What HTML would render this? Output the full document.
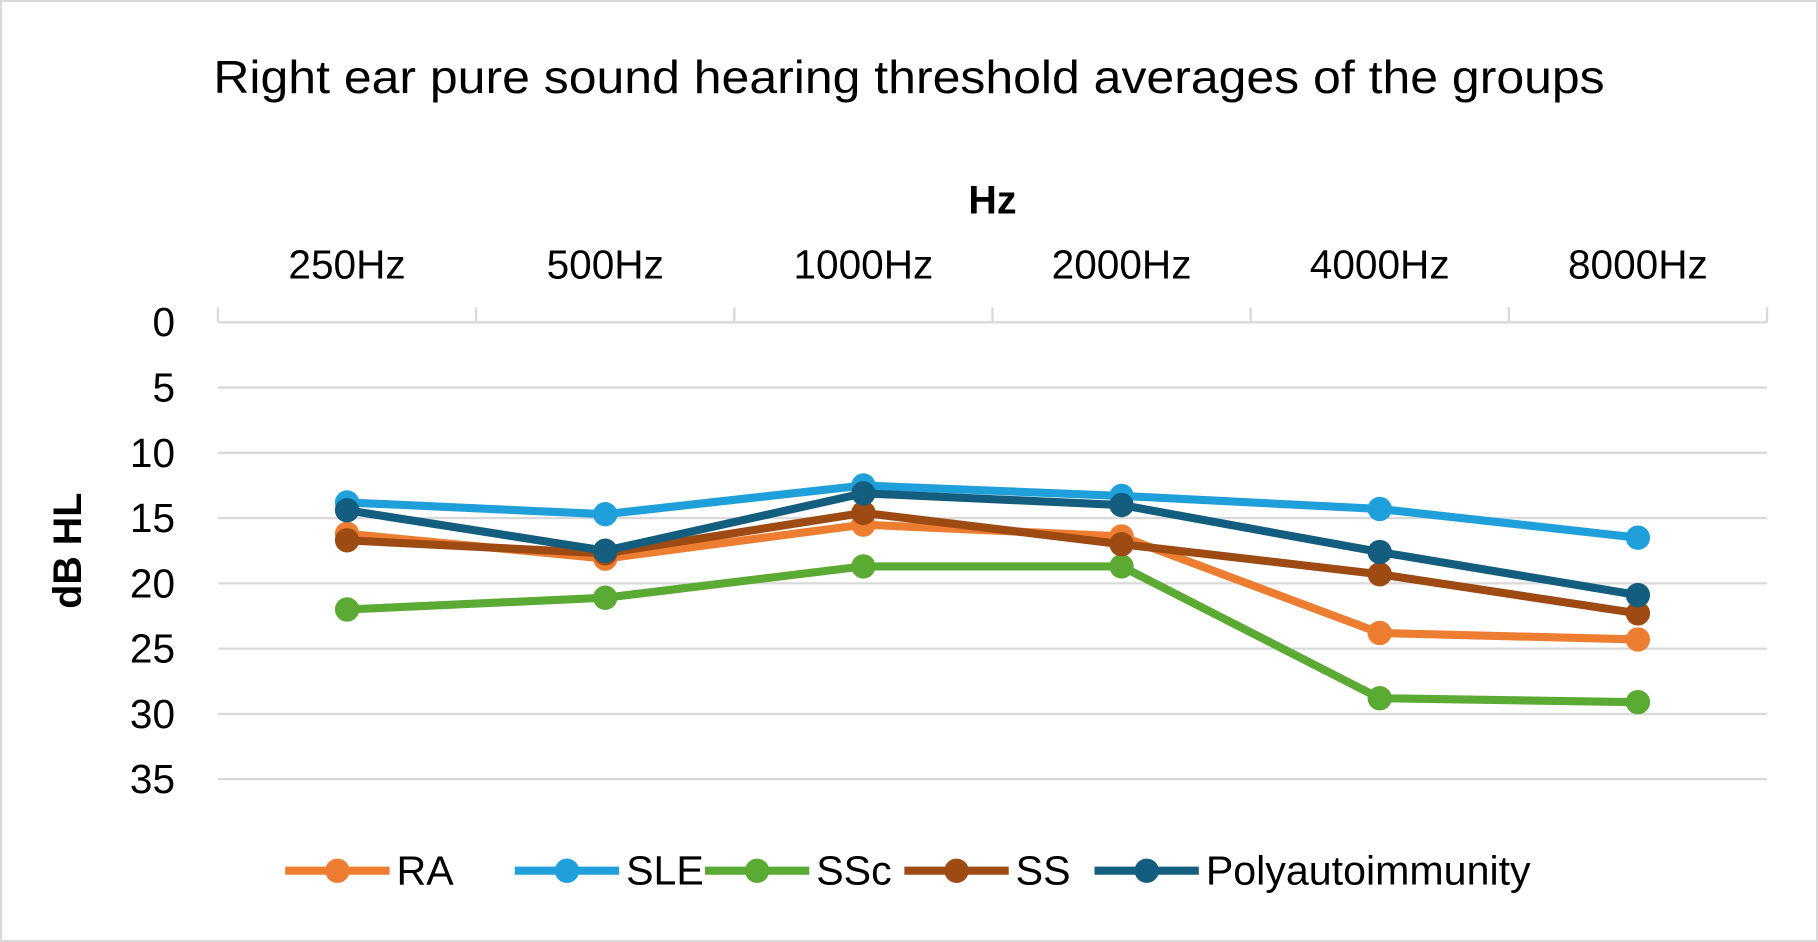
<!DOCTYPE html>
<html><head><meta charset="utf-8"><style>
body{margin:0;background:#fff;}
svg{display:block;font-family:"Liberation Sans",sans-serif;}
</style></head><body>
<svg id="c" width="1818" height="942">
<rect x="1" y="1" width="1816" height="940" fill="#fff" stroke="#d9d9d9" stroke-width="2"/>
<g transform="scale(1.15944)">
<text x="784" y="80" font-size="40" text-anchor="middle" textLength="1200" lengthAdjust="spacingAndGlyphs" fill="#000">Right ear pure sound hearing threshold averages of the groups</text>
<text x="856" y="184" font-size="34" font-weight="bold" text-anchor="middle">Hz</text>
<text transform="translate(70,475) rotate(-90)" font-size="34" font-weight="bold" text-anchor="middle">dB HL</text>
<g id="grid"></g><g id="series"></g><g id="legend"></g>
</g>
</svg>
<script>
const categories=["250Hz","500Hz","1000Hz","2000Hz","4000Hz","8000Hz"];
const yTicks=[0,5,10,15,20,25,30,35];
const seriesNames=["RA","SLE","SSc","SS","Polyautoimmunity"];
const seriesColors=["#ed7d31","#1fa0db","#5aaa34","#9e4a13","#135e7e"];
const RA=[16.2,18.1,15.5,16.4,23.8,24.3];
const SLE=[13.8,14.7,12.5,13.3,14.3,16.5];
const SSc=[22.0,21.1,18.7,18.7,28.8,29.1];
const SS=[16.7,17.7,14.6,17.0,19.3,22.3];
const Poly=[14.4,17.5,13.1,14.0,17.6,20.9];
const allSeries=[RA,SLE,SSc,SS,Poly];
const NS="http://www.w3.org/2000/svg";
const L=188,R=1524,T=278,B=672,yMax=35;
const bw=(R-L)/categories.length;
const xS=i=>L+bw*(i+0.5);
const yS=v=>T+(B-T)*v/yMax;
function mk(tag,attrs,parent){const e=document.createElementNS(NS,tag);for(const k in attrs)e.setAttribute(k,attrs[k]);parent.appendChild(e);return e;}
const grid=document.getElementById('grid');
yTicks.forEach(v=>{
  if(v>0){const g=mk('line',{x1:L,x2:R,y1:yS(v),y2:yS(v),stroke:'#d9d9d9','stroke-width':2},grid);
  
  }
  const t=mk('text',{x:151,y:yS(v)+12,'font-size':35,'text-anchor':'end'},grid);t.textContent=v;
  
  
});
const ax=mk('line',{x1:L,x2:R,y1:T,y2:T,stroke:'#d9d9d9','stroke-width':2},grid);


for(let i=0;i<=categories.length;i++){const tk=mk('line',{x1:L+bw*i,x2:L+bw*i,y1:T-13,y2:T,stroke:'#d9d9d9','stroke-width':2},grid);

}
categories.forEach((c,i)=>{const t=mk('text',{x:xS(i),y:240,'font-size':35,'text-anchor':'middle'},grid);t.textContent=c;

});
const sg=document.getElementById('series');
allSeries.forEach((s,k)=>{
  const p=mk('polyline',{points:s.map((v,i)=>xS(i)+','+yS(v)).join(' '),fill:'none',stroke:seriesColors[k],'stroke-width':7,'stroke-linejoin':'round'},sg);
  
  
  s.forEach((v,i)=>{const c=mk('circle',{cx:xS(i),cy:yS(v),r:10.5,fill:seriesColors[k]},sg);
  
  });
});
const lg=document.getElementById('legend');
const lx=[246,444,608,780,944];
seriesNames.forEach((n,k)=>{
  const g=mk('g',{},lg);
  
  
  mk('line',{x1:lx[k],x2:lx[k]+90,y1:751,y2:751,stroke:seriesColors[k],'stroke-width':7},g);
  mk('circle',{cx:lx[k]+45,cy:751,r:10.5,fill:seriesColors[k]},g);
  const t=mk('text',{x:lx[k]+96,y:763,'font-size':35.5},g);t.textContent=n;
});
</script>
</body></html>
